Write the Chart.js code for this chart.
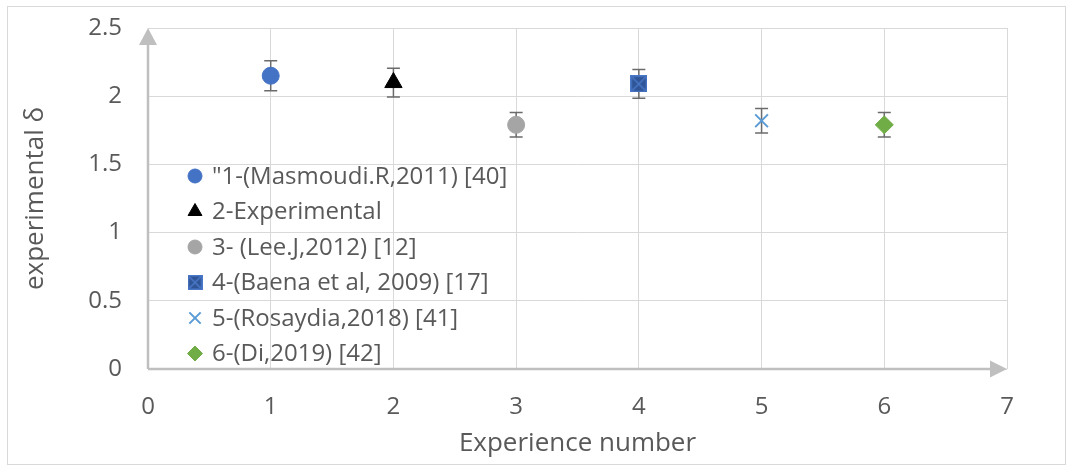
<!DOCTYPE html>
<html>
<head>
<meta charset="utf-8">
<script src="https://cdn.jsdelivr.net/npm/chart.js@4/dist/chart.umd.min.js"></script>
<style>
  html, body { margin: 0; padding: 0; background: #ffffff; }
  #wrap { width: 1068px; height: 467px; position: relative; }
</style>
</head>
<body>
<div id="wrap"><canvas id="c" width="1068" height="467"></canvas></div>
<script>
// Experiment numbers and measured delta values with their error margins
const experiments = [1, 2, 3, 4, 5, 6];
const deltaValues = [2.15, 2.10, 1.79, 2.09, 1.82, 1.79];
const deltaErrors = [0.11, 0.105, 0.09, 0.105, 0.09, 0.09];
const seriesLabels = [
  '"1-(Masmoudi.R,2011) [40]',
  '2-Experimental',
  '3- (Lee.J,2012) [12]',
  '4-(Baena et al, 2009) [17]',
  '5-(Rosaydia,2018) [41]',
  '6-(Di,2019) [42]'
];
const xTicks = [0, 1, 2, 3, 4, 5, 6, 7];
const yTicks = [0, 0.5, 1, 1.5, 2, 2.5];

const FONT = "'Open Sans', 'Noto Sans', sans-serif";
const TEXT = '#595959';
const GRID = '#d9d9d9';
const AXIS = '#bfbfbf';

// Square marker with a diagonal cross inside
function boxCross(size) {
  const cv = document.createElement('canvas');
  cv.width = size; cv.height = size;
  const g = cv.getContext('2d');
  g.fillStyle = '#2f5597';
  g.fillRect(0, 0, size, size);
  g.strokeStyle = '#4a78c8';
  g.lineWidth = 1.5;
  g.strokeRect(0.75, 0.75, size - 1.5, size - 1.5);
  g.beginPath();
  g.moveTo(2, 2); g.lineTo(size - 2, size - 2);
  g.moveTo(size - 2, 2); g.lineTo(2, size - 2);
  g.stroke();
  return cv;
}

const markerStyles = [
  { pointStyle: 'circle', radius: 8.5, bg: '#4472c4', border: '#4472c4', bw: 1, lr: 7 },
  { pointStyle: 'triangle', radius: 10, bg: '#000000', border: '#000000', bw: 1, lr: 8 },
  { pointStyle: 'circle', radius: 8.5, bg: '#a5a5a5', border: '#a5a5a5', bw: 1, lr: 7 },
  { pointStyle: boxCross(17), legendStyle: boxCross(15), radius: 8.5, bg: '#2f5597', border: '#4472c4', bw: 1, lr: 7 },
  { pointStyle: 'crossRot', radius: 9, bg: '#5b9bd5', border: '#5b9bd5', bw: 2, lr: 8 },
  { pointStyle: 'rectRot', radius: 9, bg: '#70ad47', border: '#70ad47', bw: 1, lr: 7.5 }
];

const datasets = experiments.map((x, i) => ({
  label: seriesLabels[i],
  data: [{ x: x, y: deltaValues[i] }],
  errors: [deltaErrors[i]],
  pointStyle: markerStyles[i].pointStyle,
  legendStyle: markerStyles[i].legendStyle || markerStyles[i].pointStyle,
  legendRadius: markerStyles[i].lr,
  pointRadius: markerStyles[i].radius,
  backgroundColor: markerStyles[i].bg,
  borderColor: markerStyles[i].border,
  borderWidth: markerStyles[i].bw,
  showLine: false
}));

// Vertical error bars with caps, drawn beneath the markers
const errorBars = {
  id: 'errorBars',
  beforeDatasetsDraw(chart) {
    const ctx = chart.ctx;
    const xs = chart.scales.x, ys = chart.scales.y;
    ctx.save();
    ctx.strokeStyle = '#6b6b6b';
    ctx.lineWidth = 1.5;
    chart.data.datasets.forEach(ds => {
      ds.data.forEach((p, j) => {
        const e = ds.errors[j];
        const px = xs.getPixelForValue(p.x);
        const top = ys.getPixelForValue(p.y + e);
        const bot = ys.getPixelForValue(p.y - e);
        ctx.beginPath();
        ctx.moveTo(px, top); ctx.lineTo(px, bot);
        ctx.moveTo(px - 6.5, top); ctx.lineTo(px + 6.5, top);
        ctx.moveTo(px - 6.5, bot); ctx.lineTo(px + 6.5, bot);
        ctx.stroke();
      });
    });
    ctx.restore();
  }
};

// Axis lines with arrow heads at the origin, plus the outer frame
const axesArrows = {
  id: 'axesArrows',
  afterDraw(chart) {
    const ctx = chart.ctx;
    const xs = chart.scales.x, ys = chart.scales.y;
    const x0 = xs.getPixelForValue(0), x1 = xs.getPixelForValue(7);
    const y0 = ys.getPixelForValue(0), y1 = ys.getPixelForValue(2.5);
    ctx.save();
    ctx.strokeStyle = AXIS;
    ctx.fillStyle = AXIS;
    ctx.lineWidth = 2.5;
    ctx.beginPath();
    ctx.moveTo(x0, y0); ctx.lineTo(x1 - 14, y0);
    ctx.moveTo(x0, y0); ctx.lineTo(x0, y1 + 14);
    ctx.stroke();
    ctx.beginPath();
    ctx.moveTo(x1, y0); ctx.lineTo(x1 - 17, y0 - 8.5); ctx.lineTo(x1 - 17, y0 + 8.5); ctx.closePath();
    ctx.fill();
    ctx.beginPath();
    ctx.moveTo(x0, y1); ctx.lineTo(x0 - 9, y1 + 17); ctx.lineTo(x0 + 9, y1 + 17); ctx.closePath();
    ctx.fill();
    ctx.strokeStyle = GRID;
    ctx.lineWidth = 1;
    ctx.strokeRect(7.5, 6.5, 1058, 458);
    ctx.restore();
  }
};

// Legend drawn inside the plot area, one row per series
const innerLegend = {
  id: 'innerLegend',
  afterDatasetsDraw(chart) {
    const ctx = chart.ctx;
    const area = chart.chartArea;
    const mx = area.left + 47, tx = area.left + 64;
    const y0 = area.top + 148, step = 35.5;
    ctx.save();
    ctx.font = '24px ' + FONT;
    ctx.textBaseline = 'middle';
    ctx.textAlign = 'left';
    chart.data.datasets.forEach((ds, i) => {
      const y = y0 + i * step;
      ctx.fillStyle = ds.backgroundColor;
      ctx.strokeStyle = ds.borderColor;
      ctx.lineWidth = ds.borderWidth;
      Chart.helpers.drawPoint(ctx, { pointStyle: ds.legendStyle, radius: ds.legendRadius, rotation: 0, borderWidth: ds.borderWidth }, mx, y);
      ctx.fillStyle = TEXT;
      ctx.fillText(ds.label, tx, y + 1);
    });
    ctx.restore();
  }
};

new Chart(document.getElementById('c'), {
  type: 'scatter',
  data: { datasets: datasets },
  plugins: [errorBars, innerLegend, axesArrows],
  options: {
    responsive: false,
    animation: false,
    devicePixelRatio: 1,
    layout: { padding: { top: 28, right: 61, left: 0, bottom: 0 } },
    plugins: { legend: { display: false }, tooltip: { enabled: false } },
    scales: {
      x: {
        type: 'linear', min: 0, max: 7,
        afterFit(s) { s.height = 98; s.paddingLeft = 0; s.paddingRight = 0; },
        afterBuildTicks(s) { s.ticks = xTicks.map(v => ({ value: v })); },
        grid: { color: GRID, lineWidth: 1, drawTicks: false },
        border: { display: false },
        ticks: { color: TEXT, font: { family: FONT, size: 24 }, padding: 24, callback: v => String(v) },
        title: { display: true, text: 'Experience number', color: TEXT, font: { family: FONT, size: 26 }, padding: { top: 0, bottom: 8 } }
      },
      y: {
        type: 'linear', min: 0, max: 2.5,
        afterFit(s) { s.width = 148; s.paddingTop = 0; s.paddingBottom = 0; },
        afterBuildTicks(s) { s.ticks = yTicks.map(v => ({ value: v })); },
        grid: { color: GRID, lineWidth: 1, drawTicks: false },
        border: { display: false },
        ticks: { color: TEXT, font: { family: FONT, size: 24 }, padding: 26, callback: v => String(v) },
        title: { display: true, text: 'experimental δ', color: TEXT, font: { family: FONT, size: 26 }, padding: { top: 20, bottom: 0 } }
      }
    }
  }
});
</script>
</body>
</html>
